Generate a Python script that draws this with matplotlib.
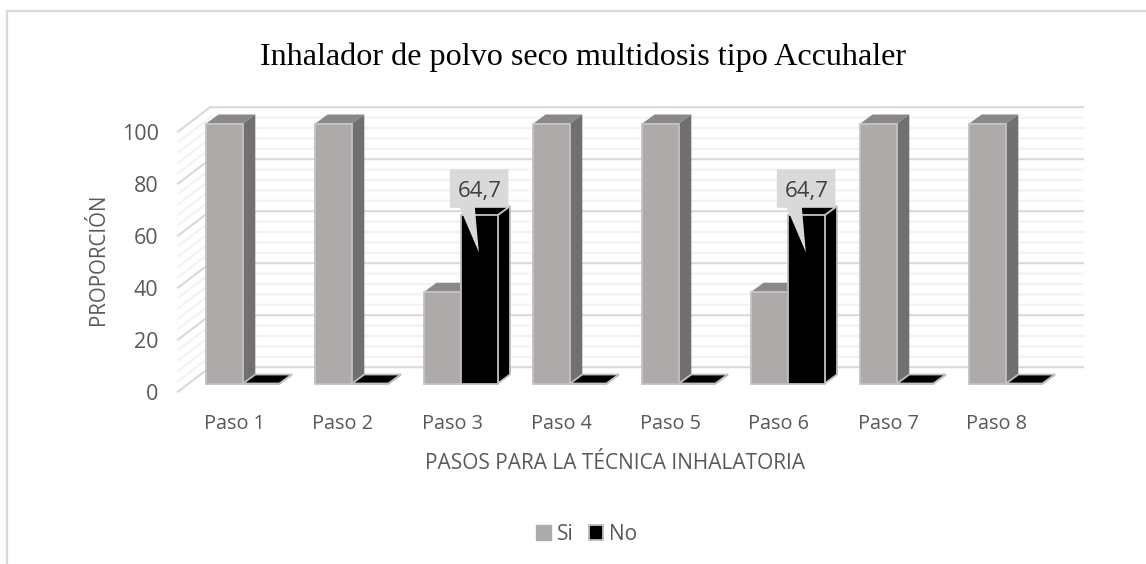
import matplotlib
matplotlib.use("Agg")
import matplotlib.pyplot as plt
from matplotlib.patches import Polygon, Rectangle

W, H = 1146, 564
categories = ["Paso 1", "Paso 2", "Paso 3", "Paso 4", "Paso 5", "Paso 6", "Paso 7", "Paso 8"]
si_values = [100, 100, 35.3, 100, 100, 35.3, 100, 100]
no_values = [0, 0, 64.7, 0, 0, 64.7, 0, 0]
callouts = {2: "64,7", 5: "64,7"}
yticks = [0, 20, 40, 60, 80, 100]

C_SI, C_SI_TOP, C_SI_SIDE = "#aeaaaa", "#8b8888", "#716f6f"
C_NO, C_EDGE = "#000000", "#bfbfbf"
C_TEXT = "#595959"
FONT = "Open Sans"

fig = plt.figure(figsize=(W / 100, H / 100), dpi=100, facecolor="white")
# full-figure pixel helper for chart frame
bg = fig.add_axes([0, 0, 1, 1], zorder=0)
bg.set_xlim(0, W); bg.set_ylim(H, 0); bg.axis("off")
bg.plot([7, 7, W], [H, 11, 11], color="#d9d9d9", lw=1.6, solid_joinstyle="miter")

# front plane of the 3-D box
L, R, B, T = 178, 1051, 391.7, 131.7
ax = fig.add_axes([L / W, 1 - B / H, (R - L) / W, (B - T) / H], zorder=1)
ax.patch.set_alpha(0)
for s in ax.spines.values():
    s.set_visible(False)
ax.set_ylim(0, 100)
PX_Y = (B - T) / 100
PX_X = 109.0
ax.set_xlim((L - 234) / PX_X, (R - 234) / PX_X)
ux = lambda px: px / PX_X
uy = lambda px: px / PX_Y

ax.set_xticks(range(len(categories)), categories)
ax.set_yticks(yticks)
ax.tick_params(axis="both", length=0, labelcolor=C_TEXT)
ax.tick_params(axis="x", pad=16, labelsize=14.3)
ax.tick_params(axis="y", pad=14, labelsize=15.5)
for lab in ax.get_xticklabels() + ax.get_yticklabels():
    lab.set_fontfamily(FONT)
ax.set_xlabel("PASOS PARA LA TÉCNICA INHALATORIA", fontsize=15, color=C_TEXT, family=FONT)
ax.xaxis.set_label_coords((615 - L) / (R - L), (B - 453) / (B - T))
ax.set_ylabel("PROPORCIÓN", fontsize=14.8, color=C_TEXT, family=FONT)
ax.yaxis.set_label_coords((109 - L) / (R - L), (B - 259) / (B - T))

# walls: gridlines every 4 units, major at 20
x0, x1 = ax.get_xlim()
wall_dx, wall_dy = ux(32), uy(24.5)
for v in range(0, 101, 4):
    major = v % 20 == 0
    col = "#d9d9d9" if major else "#f2f2f2"
    z = 2 if major else 1
    ax.plot([x0, x0 + wall_dx, x1 + wall_dx], [v, v + wall_dy, v + wall_dy],
            color=col, lw=1.5, clip_on=False, zorder=z, solid_joinstyle="miter")

# bars
bar_w = ux(36.7)
shift = ux(9)
base = uy(8.2)
d_x, d_y = ux(12.3), uy(9)


def bar3d(xl, val, front, top, side, edge, depth_edge, order):
    xr = xl + bar_w
    yb, yt = base, base + val
    ax.add_patch(Polygon([(xl, yt), (xl + d_x, yt + d_y), (xr + d_x, yt + d_y), (xr, yt)],
                         closed=True, fc=top, ec=depth_edge, lw=1.3, zorder=order, clip_on=False))
    ax.add_patch(Polygon([(xr, yb), (xr + d_x, yb + d_y), (xr + d_x, yt + d_y), (xr, yt)],
                         closed=True, fc=side, ec=depth_edge, lw=1.3, zorder=order + 0.1, clip_on=False))
    ax.bar(xl, val, bar_w, bottom=base, align="edge", color=front, edgecolor=edge,
           linewidth=1.3, zorder=order + 0.2, clip_on=False)


for i, (si, no) in enumerate(zip(si_values, no_values)):
    bar3d(i + shift - bar_w, si, C_SI, C_SI_TOP, C_SI_SIDE, "#c4c2c2", "none", 5 + i)
    bar3d(i + shift, no, C_NO, C_NO, C_NO, C_EDGE, C_EDGE, 5.5 + i)
    if i in callouts:
        # callout box sits above the bar and points down into it
        top = base + no
        xc = i + shift + bar_w / 2
        bx0, bx1 = xc - ux(29.5), xc + ux(29)
        by0, by1 = top + uy(7.5), top + uy(46)
        ax.add_patch(Polygon([(bx0, by0), (bx0, by1), (bx1, by1), (bx1, by0),
                              (xc - ux(4.5), by0), (xc - ux(0.5), top - uy(37)),
                              (xc - ux(19.5), by0)],
                             closed=True, fc="#d9d9d9", ec="none", zorder=30, clip_on=False))
        ax.text(xc, (by0 + by1) / 2 - uy(3), callouts[i], ha="center", va="center", fontsize=16,
                family=FONT, color="#404040", zorder=31)

fig.text(583 / W, 1 - 57 / H, "Inhalador de polvo seco multidosis tipo Accuhaler", ha="center", va="center",
         fontsize=23.1, family="Liberation Serif", color="black")

# legend
leg = fig.legend(handles=[Rectangle((0, 0), 1, 1, fc=C_SI, ec=C_SI, label="Si"),
                          Rectangle((0, 0), 1, 1, fc=C_NO, ec=C_EDGE, lw=1.3, label="No")],
                 loc="center", bbox_to_anchor=(587 / W, 1 - 534 / H), ncol=2, frameon=False,
                 handlelength=0.7, handleheight=0.7, handletextpad=0.3, columnspacing=0.7,
                 prop={"family": FONT, "size": 15}, labelcolor=C_TEXT)
fig.savefig("out.png", dpi=100, facecolor="white")
